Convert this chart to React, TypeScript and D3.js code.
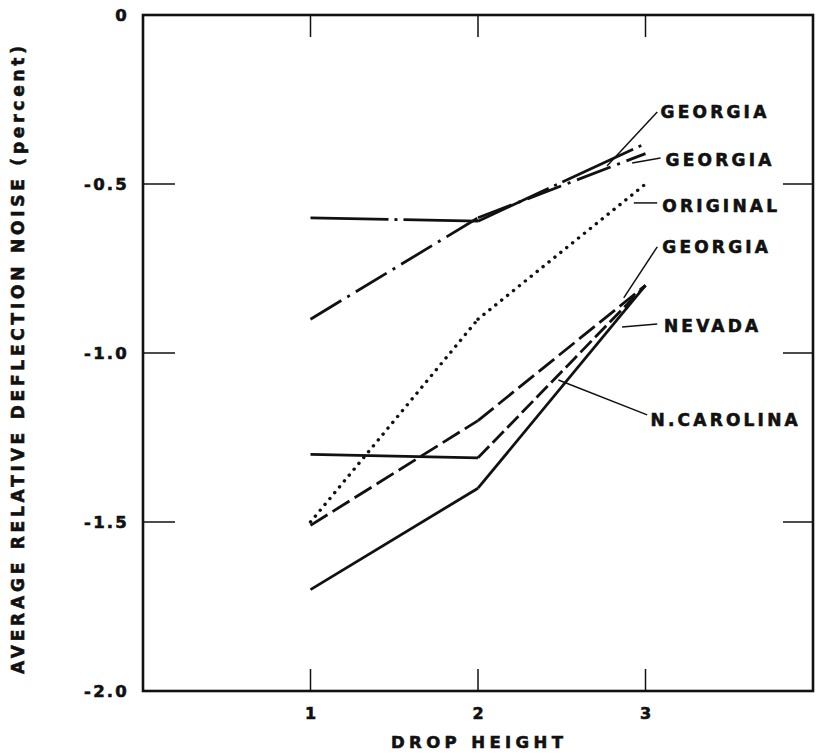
import React from "react";
import * as d3 from "d3";

const width = 817;
const height = 755;
const frame = { left: 143, right: 813, top: 15, bottom: 691 };

// data
const dropHeights = [1, 2, 3];
const georgiaA = [-0.6, -0.61, -0.38];
const georgiaB = [-0.9, -0.6, -0.41];
const original = [-1.5, -0.9, -0.5];
const georgiaC = [-1.3, -1.31, -0.8];
const nevada = [-1.51, -1.2, -0.8];
const northCarolina = [-1.7, -1.4, -0.8];

const yTicks = [0, -0.5, -1.0, -1.5, -2.0];
const yTickLabels = ["0", "-0.5", "-1.0", "-1.5", "-2.0"];
const xTicks = [1, 2, 3];

// series styling: dash per segment
const series = [
  { values: georgiaA, dash: ["78 6 3 6", "78 6 3 6"], cap: "butt" },
  { values: georgiaB, dash: ["36 7 3 7", "36 7 3 7"], cap: "butt" },
  { values: original, dash: ["0.1 7.5", "0.1 7.5"], cap: "round" },
  { values: georgiaC, dash: [null, "16 5"], cap: "butt" },
  { values: nevada, dash: ["20 6", "20 6"], cap: "butt" },
  { values: northCarolina, dash: [null, null], cap: "butt" }
];

// label annotations in data units: text anchor + leader line
const labels = [
  { text: "GEORGIA", x: 3.09, y: -0.305, lx1: 3.07, ly1: -0.287, lx2: 2.77, ly2: -0.447 },
  { text: "GEORGIA", x: 3.12, y: -0.447, lx1: 3.09, ly1: -0.423, lx2: 2.92, ly2: -0.438 },
  { text: "ORIGINAL", x: 3.1, y: -0.583, lx1: 2.93, ly1: -0.556, lx2: 3.07, ly2: -0.556 },
  { text: "GEORGIA", x: 3.1, y: -0.704, lx1: 3.07, ly1: -0.686, lx2: 2.87, ly2: -0.837 },
  { text: "NEVADA", x: 3.11, y: -0.938, lx1: 3.07, ly1: -0.914, lx2: 2.86, ly2: -0.923 },
  { text: "N.CAROLINA", x: 3.03, y: -1.216, lx1: 3.01, ly1: -1.183, lx2: 2.48, ly2: -1.08 }
];

const font = "'DejaVu Sans', sans-serif";
const heavy = { fontFamily: font, fontWeight: "bold", fill: "#111", stroke: "#111", strokeWidth: 0.6 } as const;

export default function App() {
  const x = d3.scaleLinear().domain([0, 4]).range([frame.left, frame.right]);
  const y = d3.scaleLinear().domain([0, -2]).range([frame.top, frame.bottom]);
  const line = d3
    .line<[number, number]>()
    .x((d) => x(d[0]))
    .y((d) => y(d[1]));

  return (
    <svg
      width={width}
      height={height}
      style={{ position: "absolute", left: 0, top: 0, background: "#fff" }}
    >
      <rect
        x={frame.left}
        y={frame.top}
        width={frame.right - frame.left}
        height={frame.bottom - frame.top}
        fill="none"
        stroke="#111"
        strokeWidth={2.6}
      />
      {yTicks.slice(1, 4).map((t) => (
        <g key={t}>
          <line x1={frame.left} x2={frame.left + 32} y1={y(t)} y2={y(t)} stroke="#111" strokeWidth={1.5} />
          <line x1={frame.right - 30} x2={frame.right} y1={y(t)} y2={y(t)} stroke="#111" strokeWidth={1.5} />
        </g>
      ))}
      {xTicks.map((t) => (
        <g key={t}>
          <line x1={x(t)} x2={x(t)} y1={frame.top} y2={frame.top + 22} stroke="#111" strokeWidth={1.5} />
          <line x1={x(t)} x2={x(t)} y1={frame.bottom} y2={frame.bottom - 22} stroke="#111" strokeWidth={1.5} />
          <text x={x(t)} y={frame.bottom + 28} textAnchor="middle" fontSize={16} {...heavy}>
            {t}
          </text>
        </g>
      ))}
      {yTicks.map((t, i) => (
        <text
          key={t}
          x={frame.left - 14}
          y={y(t) + 6}
          textAnchor="end"
          fontSize={16.5}
          letterSpacing={2.2}
          {...heavy}
        >
          {yTickLabels[i]}
        </text>
      ))}
      <text
        x={477}
        y={748}
        textAnchor="middle"
        fontSize={16.5}
        textLength={172}
        lengthAdjust="spacing"
        {...heavy}
      >
        DROP HEIGHT
      </text>
      <text
        transform={`translate(24 ${(45 + 675) / 2}) rotate(-90)`}
        textAnchor="middle"
        fontSize={17}
        textLength={628}
        lengthAdjust="spacing"
        {...heavy}
      >
        AVERAGE RELATIVE DEFLECTION NOISE (percent)
      </text>

      {series.map((s, i) =>
        s.values.slice(1).map((v, j) => (
          <path
            key={`${i}_${j}`}
            d={
              line([
                [dropHeights[j], s.values[j]],
                [dropHeights[j + 1], v]
              ]) || ""
            }
            fill="none"
            stroke="#111"
            strokeWidth={s.cap === "round" ? 3.4 : 2.8}
            strokeLinecap={s.cap as any}
            strokeDasharray={s.dash[j] || undefined}
          />
        ))
      )}

      {labels.map((l, i) => (
        <g key={i}>
          <line
            x1={x(l.lx1)}
            y1={y(l.ly1)}
            x2={x(l.lx2)}
            y2={y(l.ly2)}
            stroke="#111"
            strokeWidth={1.5}
          />
          <text x={x(l.x)} y={y(l.y)} fontSize={17} letterSpacing={3.2} {...heavy}>
            {l.text}
          </text>
        </g>
      ))}
    </svg>
  );
}
